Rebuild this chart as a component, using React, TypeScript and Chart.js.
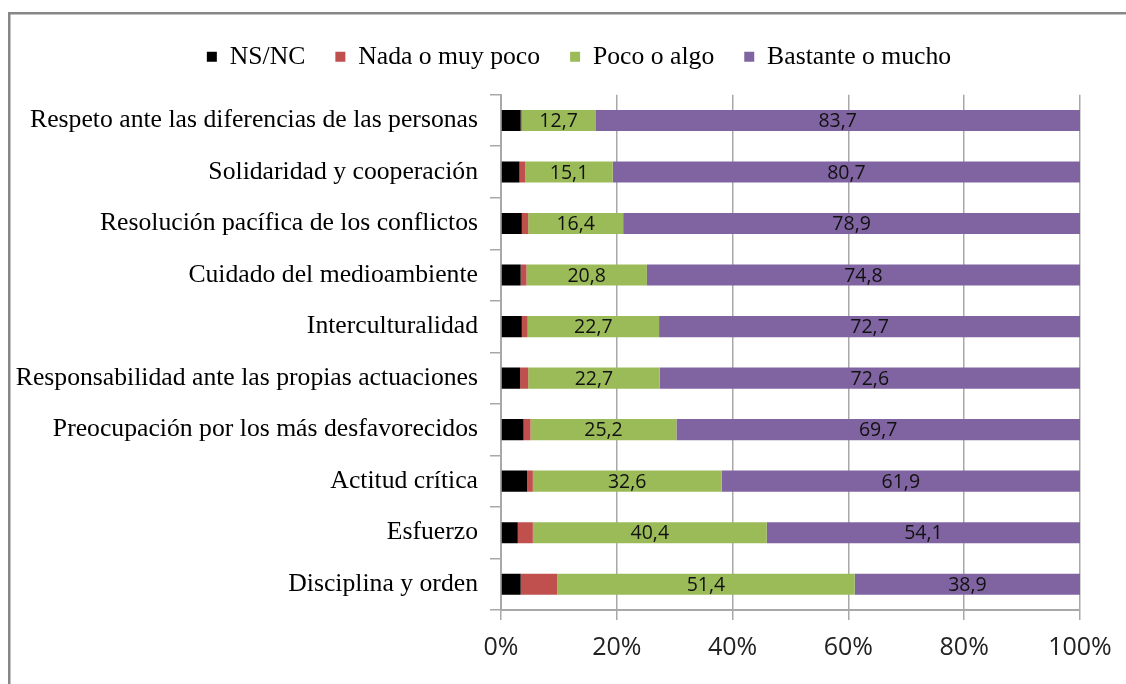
import React, { useEffect, useRef } from "react";
import { Chart, registerables } from "chart.js";

Chart.register(...registerables);

const categories = [
  "Respeto ante las diferencias de las personas",
  "Solidaridad y cooperación",
  "Resolución pacífica de los conflictos",
  "Cuidado del medioambiente",
  "Interculturalidad",
  "Responsabilidad ante las propias actuaciones",
  "Preocupación por los más desfavorecidos",
  "Actitud crítica",
  "Esfuerzo",
  "Disciplina y orden",
];

const nsnc = [3.4, 3.2, 3.6, 3.4, 3.6, 3.3, 3.9, 4.5, 2.9, 3.4];
const nadaMuyPoco = [0.2, 1.0, 1.1, 1.0, 1.0, 1.4, 1.2, 1.0, 2.6, 6.3];
const pocoAlgo = [12.7, 15.1, 16.4, 20.8, 22.7, 22.7, 25.2, 32.6, 40.4, 51.4];
const bastanteMucho = [83.7, 80.7, 78.9, 74.8, 72.7, 72.6, 69.7, 61.9, 54.1, 38.9];

const seriesNames = ["NS/NC", "Nada o muy poco", "Poco o algo", "Bastante o mucho"];
const seriesColors = ["#000000", "#C0504D", "#9BBB59", "#8064A2"];
const labeledSeries = [2, 3];
const xTicks = [0, 20, 40, 60, 80, 100];

const GRID = "#a8a8a8";

export default function App() {
  const ref = useRef<HTMLCanvasElement | null>(null);

  useEffect(() => {
    if (!ref.current) return;

    const framePlugin = {
      id: "frame",
      beforeDraw(chart: any) {
        const ctx = chart.ctx;
        ctx.save();
        ctx.fillStyle = "#ffffff";
        ctx.fillRect(0, 0, chart.width, chart.height);
        ctx.strokeStyle = "#878787";
        ctx.lineWidth = 2.5;
        ctx.beginPath();
        ctx.moveTo(9.25, chart.height);
        ctx.lineTo(9.25, 13.25);
        ctx.lineTo(chart.width, 13.25);
        ctx.stroke();
        ctx.restore();
      },
    };

    const legendSpace = {
      id: "legendSpace",
      beforeInit(chart: any) {
        const orig = chart.legend.fit;
        chart.legend.fit = function () {
          orig.bind(chart.legend)();
          this.height += 15;
        };
      },
      afterLayout(chart: any) {
        chart.legend.left += 34;
        chart.legend.right += 34;
      },
    };

    const barLabels = {
      id: "barLabels",
      afterDatasetsDraw(chart: any) {
        const ctx = chart.ctx;
        ctx.save();
        ctx.font = "19.5px 'Open Sans'";
        ctx.fillStyle = "#111111";
        ctx.textAlign = "center";
        ctx.textBaseline = "middle";
        labeledSeries.forEach((di) => {
          const meta = chart.getDatasetMeta(di);
          const data = chart.data.datasets[di].data as number[];
          meta.data.forEach((el: any, i: number) => {
            const p = el.getProps(["x", "y", "base"], true);
            const cx = (p.x + p.base) / 2;
            ctx.fillText(data[i].toFixed(1).replace(".", ","), cx, p.y + 1);
          });
        });
        ctx.restore();
      },
    };

    const datasets = [nsnc, nadaMuyPoco, pocoAlgo, bastanteMucho].map((d, i) => ({
      label: seriesNames[i],
      data: d,
      backgroundColor: seriesColors[i],
      borderWidth: 0,
      barPercentage: 0.41,
      categoryPercentage: 1,
    }));

    const chart = new Chart(ref.current, {
      type: "bar",
      data: { labels: categories, datasets },
      options: {
        indexAxis: "y",
        responsive: false,
        animation: false,
        layout: { padding: { left: 10, right: 46, top: 14, bottom: 0 } },
        plugins: {
          legend: {
            position: "top",
            labels: {
              font: { family: "'Liberation Serif'", size: 25.7 },
              color: "#000000",
              boxWidth: 10,
              boxHeight: 10,
              padding: 30,
            },
          },
          tooltip: { enabled: false },
        },
        scales: {
          x: {
            stacked: true,
            min: 0,
            max: 100,
            afterBuildTicks(scale: any) {
              scale.ticks = xTicks.map((v) => ({ value: v }));
            },
            afterFit(scale: any) {
              scale.height = 74;
            },
            ticks: {
              callback: (v: any) => v + "%",
              font: { family: "'Open Sans'", size: 25 },
              color: "#222222",
              padding: 13,
              maxRotation: 0,
            },
            grid: { color: GRID, lineWidth: 1.5, tickLength: 10 },
            border: { color: GRID, width: 2 },
          },
          y: {
            stacked: true,
            afterFit(scale: any) {
              scale.width = 491;
            },
            ticks: {
              font: { family: "'Liberation Serif'", size: 25.7 },
              color: "#000000",
              padding: 12,
            },
            grid: {
              offset: true,
              drawOnChartArea: false,
              drawTicks: true,
              tickLength: 11,
              color: GRID,
              lineWidth: 1.5,
            },
            border: { color: GRID, width: 2 },
          },
        },
      },
      plugins: [framePlugin, legendSpace, barLabels],
    } as any);

    return () => chart.destroy();
  }, []);

  return (
    <canvas
      ref={ref}
      width={1126}
      height={684}
      style={{ position: "fixed", left: 0, top: 0, display: "block" }}
    />
  );
}
